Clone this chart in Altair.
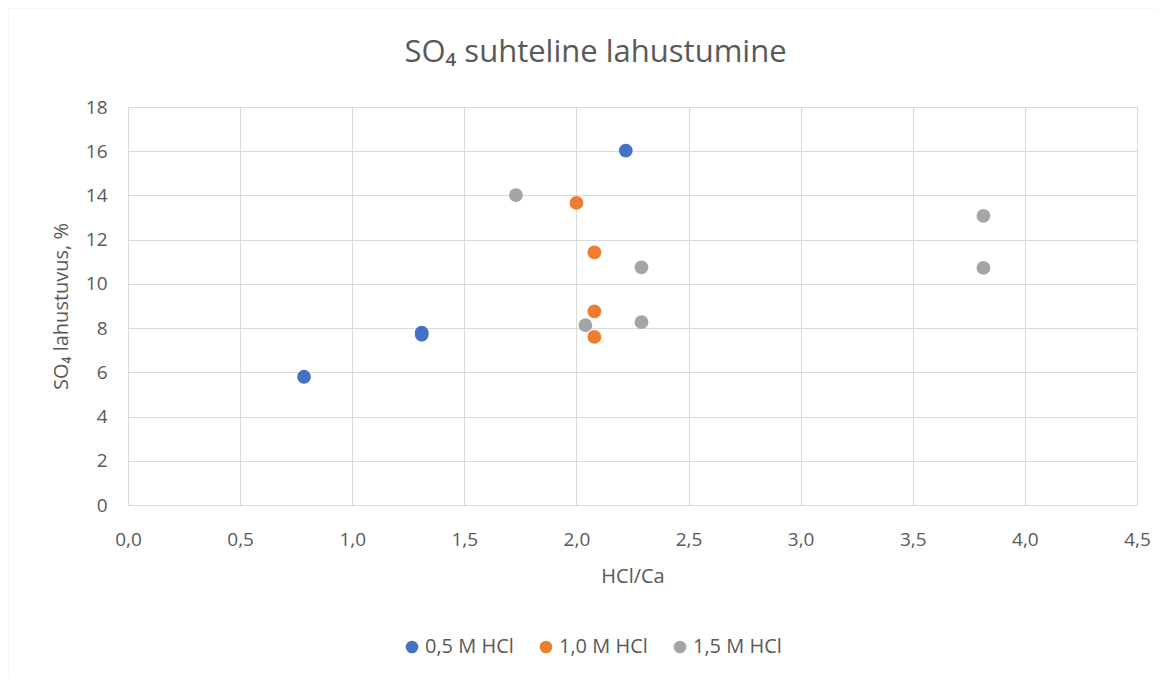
import altair as alt
import pandas as pd

series_names = ["0,5 M HCl", "1,0 M HCl", "1,5 M HCl"]
colors = ["#4472C4", "#ED7D31", "#A5A5A5"]

x_05 = [0.785, 1.31, 1.31, 2.22]
y_05 = [5.8, 7.7, 7.8, 16.03]
x_10 = [2.0, 2.08, 2.08, 2.08]
y_10 = [13.66, 11.43, 8.76, 7.6]
x_15 = [1.73, 2.29, 2.04, 2.29, 3.815, 3.815]
y_15 = [14.01, 10.75, 8.13, 8.27, 13.08, 10.72]

rows = []
for name, xs, ys in zip(series_names, [x_05, x_10, x_15], [y_05, y_10, y_15]):
    for xv, yv in zip(xs, ys):
        rows.append({"series": name, "x": xv, "y": yv})
df = pd.DataFrame(rows)

FONT = "Open Sans"
TXT = "#595959"
GRID = "#d9d9d9"

points = alt.Chart(df).mark_circle(size=190, opacity=1).encode(
    x=alt.X("x:Q", scale=alt.Scale(domain=[0, 4.5], nice=False),
            axis=alt.Axis(values=[0, 0.5, 1, 1.5, 2, 2.5, 3, 3.5, 4, 4.5],
                          labelExpr="replace(format(datum.value, '.1f'), '.', ',')",
                          title="HCl/Ca", titlePadding=17, labelPadding=25,
                          ticks=False, labelFlush=False)),
    y=alt.Y("y:Q", scale=alt.Scale(domain=[0, 18], nice=False),
            axis=alt.Axis(values=list(range(0, 19, 2)), title="SO₄ lahustuvus, %",
                          titlePadding=14, labelPadding=21, ticks=False, domain=False)),
    color=alt.Color("series:N", scale=alt.Scale(domain=series_names, range=colors),
                    legend=alt.Legend(title=None, orient="none", direction="horizontal",
                                      legendX=274, legendY=530, symbolType="circle",
                                      symbolSize=160, labelFontSize=20, labelColor=TXT,
                                      labelFont=FONT, columnPadding=22, symbolOpacity=1,
                                      labelOffset=3)),
)

frame = alt.Chart(pd.DataFrame({"a": [0]})).mark_rect(
    fill=None, stroke=GRID, strokeWidth=1.5
).encode(x=alt.value(-120.5), x2=alt.value(1200), y=alt.value(-99.5), y2=alt.value(700))

chart = alt.layer(frame, points).properties(
    width=1009, height=398,
    autosize=alt.AutoSizeParams(type="none"),
    padding={"left": 120, "top": 99, "right": 20, "bottom": 172},
    title=alt.TitleParams("SO₄ suhteline lahustumine", fontSize=31, font=FONT,
                          fontWeight="normal", color=TXT, anchor="middle",
                          frame="group", offset=-62, dx=-37),
).configure_view(stroke=None).configure_axis(
    gridColor=GRID, domainColor=GRID, labelFont=FONT, titleFont=FONT,
    labelFontSize=19, titleFontSize=20, labelColor=TXT, titleColor=TXT,
    titleFontWeight="normal"
)

chart.save("out.html", embed_options={"renderer": "svg", "actions": False})
